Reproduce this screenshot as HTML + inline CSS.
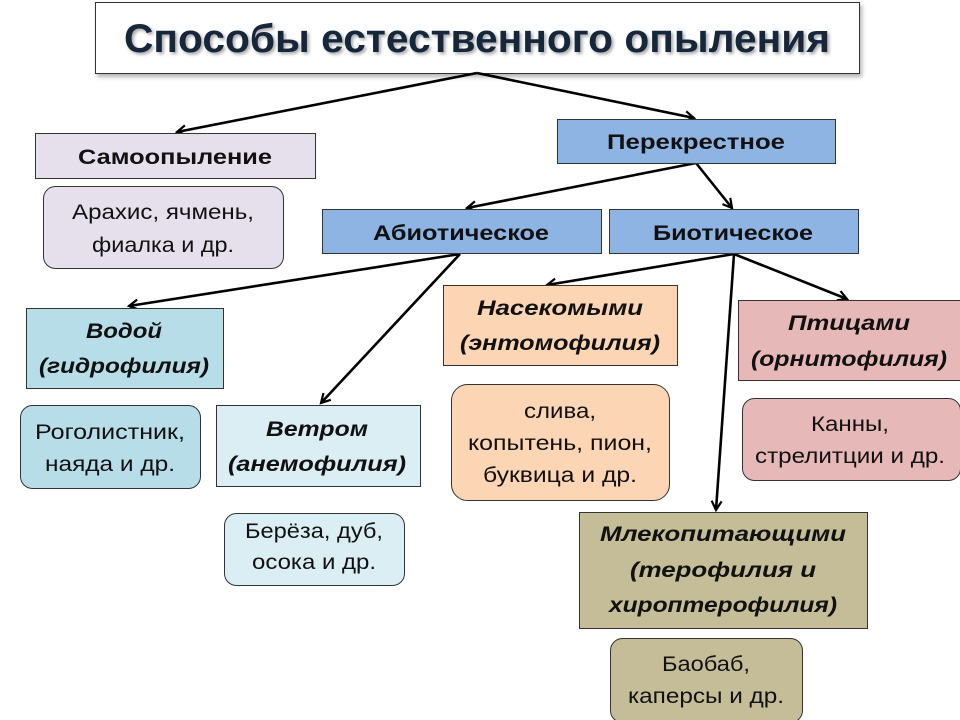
<!DOCTYPE html>
<html><head><meta charset="utf-8"><style>
html,body{margin:0;padding:0;background:#fff}
svg{display:block}
text{font-family:"Liberation Sans","DejaVu Sans",sans-serif;fill:#111}
.b{font-weight:bold}
.bi{font-weight:bold;font-style:italic}
</style></head><body>
<svg width="960" height="720" viewBox="0 0 960 720" xmlns="http://www.w3.org/2000/svg">
<defs>
<marker id="a" markerWidth="12" markerHeight="12" refX="10" refY="6" orient="auto" markerUnits="userSpaceOnUse">
<path d="M1,1 L10,6 L1,11" fill="none" stroke="#000" stroke-width="2.2"/>
</marker>
<filter id="sh" x="-5%" y="-20%" width="110%" height="150%"><feDropShadow dx="2" dy="3" stdDeviation="2" flood-color="#000" flood-opacity="0.3"/></filter>
<filter id="ts" x="-5%" y="-20%" width="110%" height="150%"><feDropShadow dx="2" dy="2" stdDeviation="1.5" flood-color="#000" flood-opacity="0.35"/></filter>
</defs>
<rect x="95.5" y="2.5" width="764" height="71" fill="#fff" stroke="#333" stroke-width="1" filter="url(#sh)"/>
<text x="477" y="52" text-anchor="middle" class="b" font-size="40" textLength="706" lengthAdjust="spacingAndGlyphs" style="fill:#17263a" filter="url(#ts)">Способы естественного опыления</text>

<g stroke="#000" stroke-width="2.6" fill="none" marker-end="url(#a)">
<line x1="477" y1="73" x2="177" y2="132"/>
<line x1="477" y1="73" x2="694" y2="118"/>
<line x1="696" y1="163" x2="467" y2="208"/>
<line x1="696" y1="163" x2="732" y2="208"/>
<line x1="460" y1="254" x2="129" y2="306"/>
<line x1="460" y1="254" x2="321" y2="403"/>
<line x1="734" y1="254" x2="547" y2="285"/>
<line x1="734" y1="254" x2="847" y2="299"/>
<line x1="734" y1="254" x2="716" y2="510"/>
</g>

<g stroke="#333" stroke-width="1">
<rect x="35.5" y="133.5" width="280" height="45" fill="#e6e0ec"/>
<rect x="43.5" y="186.5" width="240" height="82" rx="12" fill="#e6e0ec"/>
<rect x="557.5" y="119.5" width="278" height="44" fill="#8eb4e3"/>
<rect x="322.5" y="209.5" width="279" height="44" fill="#8eb4e3"/>
<rect x="609.5" y="209.5" width="249" height="44" fill="#8eb4e3"/>
<rect x="26.5" y="308.5" width="197" height="80" fill="#b7dde8"/>
<rect x="20.5" y="405.5" width="180" height="83" rx="12" fill="#b7dde8"/>
<rect x="216.5" y="405.5" width="204" height="81" fill="#dbeef4"/>
<rect x="224.5" y="513.5" width="180" height="72" rx="12" fill="#dbeef4"/>
<rect x="443.5" y="285.5" width="234" height="80" fill="#fcd5b5"/>
<rect x="451.5" y="384.5" width="218" height="116" rx="16" fill="#fcd5b5"/>
<rect x="738.5" y="300.5" width="222" height="80" fill="#e6b9b8"/>
<rect x="742.5" y="398.5" width="218" height="82" rx="12" fill="#e6b9b8"/>
<rect x="579.5" y="512.5" width="288" height="116" fill="#c4bd97"/>
<rect x="610.5" y="638.5" width="192" height="84" rx="12" fill="#c4bd97"/>
</g>

<g font-size="21" text-anchor="middle">
<text x="175" y="164" class="b" textLength="194" lengthAdjust="spacingAndGlyphs">Самоопыление</text>
<text x="163" y="219" textLength="182" lengthAdjust="spacingAndGlyphs">Арахис, ячмень,</text>
<text x="163" y="252" textLength="142" lengthAdjust="spacingAndGlyphs">фиалка и др.</text>
<text x="696" y="149" class="b" textLength="178" lengthAdjust="spacingAndGlyphs">Перекрестное</text>
<text x="461" y="240" class="b" textLength="176" lengthAdjust="spacingAndGlyphs">Абиотическое</text>
<text x="733" y="240" class="b" textLength="160" lengthAdjust="spacingAndGlyphs">Биотическое</text>
<text x="124" y="338" class="bi" textLength="76" lengthAdjust="spacingAndGlyphs">Водой</text>
<text x="124" y="373" class="bi" textLength="170" lengthAdjust="spacingAndGlyphs">(гидрофилия)</text>
<text x="110" y="439" textLength="150" lengthAdjust="spacingAndGlyphs">Роголистник,</text>
<text x="110" y="471" textLength="130" lengthAdjust="spacingAndGlyphs">наяда и др.</text>
<text x="317" y="436" class="bi" textLength="102" lengthAdjust="spacingAndGlyphs">Ветром</text>
<text x="317" y="471" class="bi" textLength="178" lengthAdjust="spacingAndGlyphs">(анемофилия)</text>
<text x="314" y="538" textLength="138" lengthAdjust="spacingAndGlyphs">Берёза, дуб,</text>
<text x="314" y="569" textLength="124" lengthAdjust="spacingAndGlyphs">осока и др.</text>
<text x="560" y="315" class="bi" textLength="166" lengthAdjust="spacingAndGlyphs">Насекомыми</text>
<text x="560" y="350" class="bi" textLength="200" lengthAdjust="spacingAndGlyphs">(энтомофилия)</text>
<text x="560" y="418" textLength="72" lengthAdjust="spacingAndGlyphs">слива,</text>
<text x="560" y="450" textLength="184" lengthAdjust="spacingAndGlyphs">копытень, пион,</text>
<text x="560" y="482" textLength="154" lengthAdjust="spacingAndGlyphs">буквица и др.</text>
<text x="849" y="330" class="bi" textLength="122" lengthAdjust="spacingAndGlyphs">Птицами</text>
<text x="849" y="366" class="bi" textLength="196" lengthAdjust="spacingAndGlyphs">(орнитофилия)</text>
<text x="850" y="431" textLength="78" lengthAdjust="spacingAndGlyphs">Канны,</text>
<text x="850" y="463" textLength="190" lengthAdjust="spacingAndGlyphs">стрелитции и др.</text>
<text x="723" y="541" class="bi" textLength="246" lengthAdjust="spacingAndGlyphs">Млекопитающими</text>
<text x="723" y="577" class="bi" textLength="186" lengthAdjust="spacingAndGlyphs">(терофилия  и</text>
<text x="723" y="612" class="bi" textLength="228" lengthAdjust="spacingAndGlyphs">хироптерофилия)</text>
<text x="706" y="671" textLength="88" lengthAdjust="spacingAndGlyphs">Баобаб,</text>
<text x="706" y="703" textLength="156" lengthAdjust="spacingAndGlyphs">каперсы и др.</text>
</g>
</svg>
</body></html>
